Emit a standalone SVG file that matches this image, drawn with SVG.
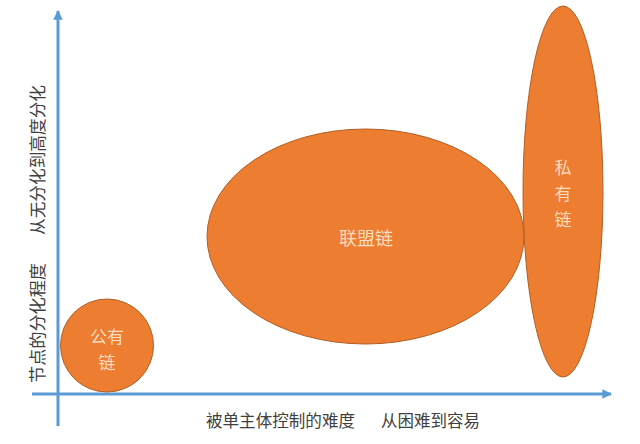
<svg xmlns="http://www.w3.org/2000/svg" width="640" height="444" viewBox="0 0 640 444">
<style>
.axis{stroke:#5b9bd5;stroke-width:3;fill:none}
.blob{fill:#ed7d31;stroke:#b05f25;stroke-width:1}
.in{font-family:"Noto Sans CJK SC","Noto Sans",sans-serif;fill:#fbdcc0;text-anchor:middle;dominant-baseline:central}
.lab{font-family:"Noto Sans CJK SC","Noto Sans",sans-serif;fill:#404040;font-size:16.5px;dominant-baseline:central}
</style>
<defs>
<marker id="arr" viewBox="0 0 10 10" refX="9" refY="5" markerWidth="3.2" markerHeight="3.2" orient="auto" markerUnits="strokeWidth">
<path d="M0,0 L10,5 L0,10 z" fill="#5b9bd5"/>
</marker>
</defs>
<rect width="640" height="444" fill="#ffffff"/>
<g id="connectors">
<line class="axis" x1="58" y1="426" x2="58" y2="11" marker-end="url(#arr)"/>
<line class="axis" x1="32" y1="394" x2="611" y2="394" marker-end="url(#arr)"/>
</g>
<g id="public">
<circle class="blob" cx="107" cy="345.5" r="46.5"/>
<text class="in" font-size="17" x="107" y="335">公有</text>
<text class="in" font-size="17" x="107" y="361">链</text>
</g>
<g id="alliance">
<ellipse class="blob" cx="365.5" cy="236.5" rx="158.5" ry="107.5"/>
<text class="in" font-size="18" x="366" y="237">联盟链</text>
</g>
<g id="private">
<ellipse class="blob" cx="563" cy="191.5" rx="40" ry="185.5"/>
<text class="in" font-size="17" x="563" y="166">私</text>
<text class="in" font-size="17" x="563" y="192">有</text>
<text class="in" font-size="17" x="563" y="218">链</text>
</g>
<g id="xlabel">
<text class="lab" x="206" y="420" textLength="149" lengthAdjust="spacingAndGlyphs">被单主体控制的难度</text>
<text class="lab" x="381" y="420" textLength="99" lengthAdjust="spacingAndGlyphs">从困难到容易</text>
</g>
<g id="ylabel" transform="translate(37,0) rotate(-90)">
<text class="lab" x="-383" y="0" font-size="17" textLength="120" lengthAdjust="spacingAndGlyphs">节点的分化程度</text>
<text class="lab" x="-235" y="0" font-size="17" textLength="150" lengthAdjust="spacingAndGlyphs">从无分化到高度分化</text>
</g>
</svg>
